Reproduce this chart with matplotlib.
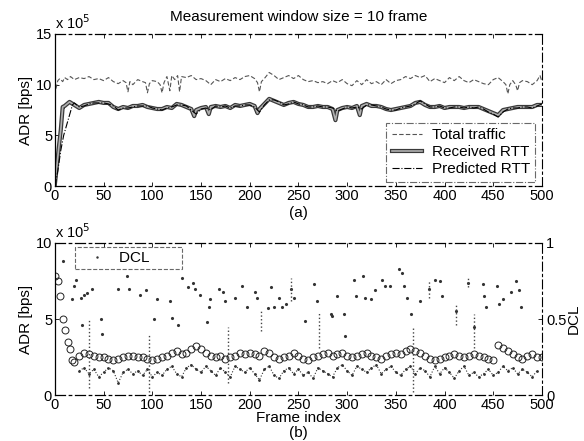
import matplotlib
matplotlib.use("Agg")
import matplotlib.pyplot as plt
import matplotlib.patheffects as pe
from matplotlib.lines import Line2D

plt.rcParams['font.family'] = ['Liberation Sans', 'DejaVu Sans']

# ---------------- data (x 1e5 bps) ----------------
total_frames = [1, 3, 5, 8, 10, 13, 16, 20, 25, 30, 35, 40, 45, 50, 55, 60, 65, 70, 73, 75, 77, 80, 85, 90, 93, 95, 97,
                100, 105, 108, 110, 112, 115, 118, 120, 123, 126, 128, 130, 135, 140, 145, 150, 155, 160, 165, 170,
                175, 180, 185, 190, 195, 200, 205, 208, 210, 212, 215, 220, 225, 230, 235, 240, 245, 250, 255, 260,
                265, 270, 275, 280, 285, 290, 295, 300, 305, 310, 315, 320, 325, 330, 335, 340, 345, 350, 355, 360,
                365, 370, 375, 380, 385, 390, 395, 400, 405, 410, 415, 420, 425, 430, 435, 440, 445, 450, 455, 460,
                463, 465, 467, 470, 473, 475, 477, 480, 485, 490, 495, 498, 500]
total_traffic = [9.6, 10.4, 10.6, 10.3, 10.7, 10.5, 10.8, 10.5, 10.7, 10.6, 10.8, 10.5, 10.6, 10.4, 10.7, 10.3, 10.1,
                 10.4, 10.2, 9.3, 10.3, 10.0, 10.5, 10.3, 10.2, 9.2, 10.1, 10.4, 10.3, 10.0, 9.2, 10.2, 10.8, 9.4,
                 10.9, 10.5, 10.9, 9.3, 10.8, 10.7, 10.9, 10.5, 10.6, 10.4, 10.0, 10.5, 10.3, 10.6, 10.4, 10.7,
                 10.5, 10.8, 10.9, 10.6, 10.2, 9.3, 10.3, 10.6, 11.2, 10.9, 10.5, 10.7, 10.9, 10.6, 10.9, 10.5,
                 10.3, 10.4, 10.2, 10.3, 10.1, 10.4, 10.2, 10.5, 10.1, 9.9, 10.4, 10.0, 10.5, 10.1, 10.3, 10.0,
                 10.5, 10.1, 10.4, 10.5, 10.8, 10.6, 10.9, 10.7, 10.9, 10.3, 10.6, 10.4, 10.2, 10.7, 10.4, 10.8,
                 10.4, 10.2, 10.5, 10.3, 10.1, 10.0, 10.5, 10.7, 10.3, 10.0, 9.1, 10.0, 10.4, 10.0, 9.4, 10.2,
                 10.4, 10.3, 10.0, 10.4, 10.9, 10.3]

recv_frames = [0, 2, 4, 6, 8, 10, 15, 20, 25, 30, 35, 40, 45, 50, 55, 60, 65, 70, 75, 80, 85, 90, 95, 100, 105, 110,
               115, 120, 125, 130, 135, 140, 143, 145, 150, 155, 158, 160, 165, 170, 175, 180, 185, 190, 195, 200,
               205, 208, 210, 215, 220, 225, 230, 235, 240, 245, 250, 255, 260, 265, 270, 275, 280, 285, 288, 290,
               295, 300, 305, 310, 313, 315, 320, 325, 330, 335, 340, 345, 350, 355, 360, 365, 370, 375, 380, 385,
               390, 395, 400, 405, 410, 415, 420, 425, 430, 435, 440, 445, 450, 455, 460, 465, 470, 475, 480, 485,
               490, 495, 500]
received_rtt = [0.2, 2.0, 3.8, 5.5, 7.8, 7.9, 8.3, 8.0, 7.7, 8.0, 8.1, 8.2, 8.3, 8.2, 8.2, 7.8, 7.6, 7.8, 7.7, 7.9,
                7.9, 8.0, 7.8, 7.7, 7.6, 7.6, 7.8, 7.7, 8.1, 8.0, 7.8, 7.6, 6.9, 7.5, 7.7, 7.8, 7.1, 7.8, 7.9, 7.8,
                7.9, 7.7, 8.0, 7.9, 8.0, 8.1, 7.9, 7.2, 7.6, 8.1, 8.6, 8.4, 8.2, 8.0, 8.2, 8.3, 8.1, 8.0, 7.8, 7.8,
                7.9, 7.8, 7.8, 7.6, 6.5, 7.5, 7.7, 7.8, 7.7, 7.9, 7.0, 7.9, 8.1, 7.9, 7.9, 7.8, 7.6, 7.5, 7.6, 7.7,
                7.8, 7.9, 8.2, 8.3, 8.0, 7.8, 7.8, 7.9, 7.7, 7.8, 7.8, 7.8, 7.7, 7.8, 7.8, 7.8, 7.6, 7.4, 7.2, 7.0,
                7.5, 7.6, 7.7, 7.8, 7.8, 7.8, 7.8, 8.0, 8.0]

pred_frames = [0, 3, 6, 9, 12, 15, 18, 20, 25, 30, 35, 40, 45, 50, 55, 60, 65, 70, 75, 80, 85, 90, 95, 100, 105,
               110, 115, 120, 125, 130, 135, 140, 145, 150, 155, 160, 165, 170, 175, 180, 185, 190, 195, 200, 205,
               210, 215, 220, 225, 230, 235, 240, 245, 250, 255, 260, 265, 270, 275, 280, 285, 290, 295, 300, 305,
               310, 315, 320, 325, 330, 335, 340, 345, 350, 355, 360, 365, 370, 375, 380, 385, 390, 395, 400, 405,
               410, 415, 420, 425, 430, 435, 440, 445, 450, 455, 460, 465, 470, 475, 480, 485, 490, 495, 500]
predicted_rtt = [0.0, 1.5, 3.5, 5.0, 6.0, 7.0, 8.0, 8.2, 7.8, 7.9, 8.1, 8.2, 8.2, 8.2, 8.1, 7.9, 7.5, 7.7, 7.7,
                 7.8, 7.9, 7.9, 7.9, 7.7, 7.6, 7.5, 7.7, 7.8, 8.0, 8.0, 7.9, 7.5, 7.1, 7.6, 7.7, 7.5, 7.9, 7.8,
                 7.9, 7.7, 7.9, 7.9, 8.0, 8.0, 7.8, 7.3, 8.0, 8.5, 8.5, 8.3, 8.0, 8.1, 8.3, 8.1, 8.0, 7.8, 7.8,
                 7.9, 7.8, 7.8, 7.7, 7.4, 7.6, 7.8, 7.7, 7.8, 7.6, 8.0, 8.0, 7.9, 7.8, 7.6, 7.5, 7.5, 7.7, 7.8,
                 7.9, 8.1, 8.4, 8.1, 7.8, 7.8, 7.9, 7.7, 7.7, 7.8, 7.8, 7.7, 7.8, 7.7, 7.8, 7.6, 7.3, 7.1, 6.8,
                 7.3, 7.6, 7.7, 7.7, 7.8, 7.8, 7.7, 7.9, 8.1]

# panel (b): ADR (x 1e5 bps)
adr_frames = [0, 3, 5, 8, 10, 13, 15, 18, 20, 25, 30, 35, 40, 45, 50, 55, 60, 65, 70, 75, 80, 85, 90, 95, 100,
              105, 110, 115, 120, 125, 130, 135, 140, 145, 150, 155, 160, 165, 170, 175, 180, 185, 190, 195, 200,
              205, 210, 215, 220, 225, 230, 235, 240, 245, 250, 255, 260, 265, 270, 275, 280, 285, 290, 295, 300,
              305, 310, 315, 320, 325, 330, 335, 340, 345, 350, 355, 360, 365, 370, 375, 380, 385, 390, 395, 400,
              405, 410, 415, 420, 425, 430, 435, 440, 445, 450, 455, 460, 465, 470, 475, 480, 485, 490, 495, 500]
adr_values = [7.8, 7.5, 6.5, 5.0, 4.3, 3.5, 3.0, 2.3, 2.2, 2.6, 2.8, 2.7, 2.6, 2.5, 2.5, 2.4, 2.3, 2.4, 2.5, 2.6,
              2.6, 2.5, 2.5, 2.4, 2.3, 2.4, 2.5, 2.6, 2.8, 2.9, 2.7, 2.8, 3.0, 3.2, 3.0, 2.8, 2.6, 2.5, 2.6, 2.4,
              2.5, 2.6, 2.8, 2.7, 2.8, 2.7, 2.6, 2.9, 2.8, 2.5, 2.4, 2.5, 2.6, 2.8, 2.6, 2.4, 2.3, 2.5, 2.6, 2.7,
              2.8, 2.6, 2.7, 2.8, 2.6, 2.5, 2.6, 2.7, 2.8, 2.6, 2.5, 2.4, 2.6, 2.7, 2.8, 2.7, 2.9, 3.0, 2.9, 2.8,
              2.6, 2.4, 2.3, 2.4, 2.5, 2.6, 2.7, 2.6, 2.5, 2.6, 2.7, 2.6, 2.5, 2.4, 2.3, 3.3, 3.1, 2.9, 2.7, 2.5,
              2.4, 2.6, 2.7, 2.5, 2.5]

# panel (b): DCL scattered values (0..1)
dcl_frames = [8, 18, 20, 22, 27, 28, 30, 33, 38, 47, 48, 65, 74, 76, 87, 94, 102, 105, 118, 120, 126, 130, 137, 142,
              144, 149, 156, 158, 159, 168, 173, 175, 185, 192, 197, 205, 207, 219, 222, 225, 230, 233, 237, 242,
              245, 257, 266, 269, 283, 284, 290, 297, 298, 307, 309, 316, 318, 325, 329, 336, 339, 344, 353, 356,
              358, 361, 366, 375, 384, 390, 395, 397, 412, 424, 430, 439, 441, 443, 454, 456, 460, 468, 473, 476,
              478]
dcl_values = [0.88, 0.63, 0.72, 0.76, 0.64, 0.46, 0.66, 0.67, 0.70, 0.50, 0.40, 0.70, 0.78, 0.70, 0.66, 0.69, 0.50,
              0.63, 0.62, 0.51, 0.46, 0.77, 0.71, 0.74, 0.70, 0.66, 0.48, 0.58, 0.63, 0.70, 0.68, 0.62, 0.64, 0.72,
              0.58, 0.68, 0.64, 0.57, 0.71, 0.58, 0.64, 0.58, 0.60, 0.70, 0.64, 0.49, 0.73, 0.62, 0.53, 0.52, 0.65,
              0.53, 0.39, 0.76, 0.65, 0.78, 0.64, 0.63, 0.69, 0.76, 0.72, 0.72, 0.83, 0.80, 0.72, 0.64, 0.53, 0.62,
              0.70, 0.76, 0.75, 0.65, 0.55, 0.74, 0.45, 0.73, 0.65, 0.58, 0.72, 0.60, 0.63, 0.68, 0.75, 0.69, 0.58]

low_frames = [25, 30, 35, 40, 45, 50, 55, 60, 65, 70, 75, 80, 85, 90, 95, 100, 105, 110, 115, 120, 125, 130, 135,
              140, 145, 150, 155, 160, 165, 170, 175, 180, 185, 190, 195, 200, 205, 210, 215, 220, 225, 230, 235,
              240, 245, 250, 255, 260, 265, 270, 275, 280, 285, 290, 295, 300, 305, 310, 315, 320, 325, 330, 335,
              340, 345, 350, 355, 360, 365, 370, 375, 380, 385, 390, 395, 400, 405, 410, 415, 420, 425, 430, 435,
              440, 445, 450, 455, 460, 465, 470, 475, 480, 485, 490, 495]
low_values = [0.16, 0.18, 0.14, 0.17, 0.12, 0.15, 0.18, 0.16, 0.08, 0.15, 0.17, 0.14, 0.16, 0.13, 0.17, 0.12, 0.15,
              0.13, 0.17, 0.19, 0.14, 0.12, 0.18, 0.20, 0.17, 0.15, 0.19, 0.16, 0.13, 0.18, 0.15, 0.12, 0.19, 0.17,
              0.15, 0.18, 0.14, 0.10, 0.17, 0.19, 0.13, 0.11, 0.16, 0.18, 0.14, 0.17, 0.13, 0.15, 0.11, 0.18,
              0.16, 0.14, 0.12, 0.18, 0.20, 0.16, 0.13, 0.19, 0.17, 0.15, 0.18, 0.20, 0.14, 0.17, 0.19, 0.15,
              0.13, 0.17, 0.19, 0.14, 0.18, 0.16, 0.12, 0.19, 0.14, 0.18, 0.15, 0.11, 0.16, 0.19, 0.13, 0.15,
              0.12, 0.14, 0.17, 0.13, 0.15, 0.19, 0.16, 0.18, 0.14, 0.17, 0.15, 0.12, 0.16]

vline_frames = [35, 97, 178, 212, 242, 271, 368, 384, 412, 424, 430]
vline_low = [0.05, 0.02, 0.08, 0.42, 0.62, 0.31, 0.02, 0.64, 0.46, 0.71, 0.31]
vline_high = [0.50, 0.40, 0.45, 0.56, 0.77, 0.54, 0.44, 0.76, 0.60, 0.78, 0.53]

xticks = [0, 50, 100, 150, 200, 250, 300, 350, 400, 450, 500]

# ---------------- figure ----------------
fig = plt.figure(figsize=(5.84, 4.41), dpi=100)
fs = 11
tfs = 10.5


def style_axes(ax):
    ax.tick_params(direction='in', length=3, labelsize=tfs, top=True, width=0.6, pad=2)
    for s in ['top', 'bottom']:
        ax.spines[s].set_linestyle((0, (8, 3, 2, 3)))
        ax.spines[s].set_linewidth(0.9)
    ax.spines['left'].set_linewidth(0.9)
    ax.spines['right'].set_linestyle((0, (8, 3, 2, 3)))
    ax.spines['right'].set_linewidth(0.8)


recv_effects = [pe.Stroke(linewidth=3.0, foreground='#3a3a3a'), pe.Normal()]

# panel (a)
ax1 = fig.add_axes([0.094, 0.578, 0.834, 0.345])
ax1.plot(total_frames, total_traffic, color='#555555', lw=0.8, ls=(0, (4, 2)))
ax1.plot(recv_frames, received_rtt, color='#b0b0b0', lw=1.2, path_effects=recv_effects)
ax1.plot(pred_frames, predicted_rtt, color='black', lw=0.8, ls='-.')
ax1.set_xlim(0, 500)
ax1.set_ylim(0, 15)
ax1.set_xticks(xticks)
ax1.set_yticks([0, 5, 10, 15])
ax1.set_ylabel('ADR [bps]', fontsize=fs, labelpad=2)
ax1.set_title('Measurement window size = 10 frame', fontsize=fs, pad=9)
ax1.text(0.0, 1.01, r'x 10$^5$', transform=ax1.transAxes, fontsize=tfs, ha='left', va='bottom')
ax1.text(0.5, -0.18, '(a)', transform=ax1.transAxes, fontsize=fs, ha='center', va='center')
style_axes(ax1)
handles = [Line2D([], [], color='#555555', lw=0.8, ls=(0, (4, 2))),
           Line2D([], [], color='#b0b0b0', lw=1.2, path_effects=recv_effects),
           Line2D([], [], color='black', lw=0.8, ls='-.')]
leg = ax1.legend(handles, ['Total traffic', 'Received RTT', 'Predicted RTT'], loc='lower right',
                 bbox_to_anchor=(0.986, 0.03), borderaxespad=0.0,
                 fontsize=fs, frameon=True, fancybox=False, borderpad=0.35, labelspacing=0.2,
                 handlelength=2.0, handletextpad=0.6)
leg.get_frame().set_edgecolor('#444444')
leg.get_frame().set_linestyle('-.')
leg.get_frame().set_linewidth(0.8)

# panel (b)
ax2 = fig.add_axes([0.094, 0.104, 0.834, 0.345])
ax2.plot(adr_frames, adr_values, ls='none', marker='o', ms=5, mfc='none', mec='#222222', mew=0.7)
ax2.set_xlim(0, 500)
ax2.set_ylim(0, 10)
ax2.set_xticks(xticks)
ax2.set_yticks([0, 5, 10])
ax2.set_ylabel('ADR [bps]', fontsize=fs, labelpad=2)
ax2.set_xlabel('Frame index', fontsize=fs, labelpad=-1)
ax2.text(0.0, 1.01, r'x 10$^5$', transform=ax2.transAxes, fontsize=tfs, ha='left', va='bottom')
ax2.text(0.5, -0.25, '(b)', transform=ax2.transAxes, fontsize=fs, ha='center', va='center')
style_axes(ax2)

ax3 = ax2.twinx()
ax3.set_ylim(0, 1)
ax3.set_xlim(0, 500)
ax3.plot(dcl_frames, dcl_values, ls='none', marker='.', ms=2.5, color='#333333')
ax3.plot(low_frames, low_values, ls=':', lw=0.8, marker='.', ms=2, color='#333333')
ax3.vlines(vline_frames, vline_low, vline_high, colors='#444444', linestyles=':', lw=1.0)
ax3.set_yticks([0, 0.5, 1])
ax3.set_yticklabels(['0', '0.5', '1'])
ax3.tick_params(direction='in', length=3, labelsize=tfs, width=0.6, pad=3)
ax3.set_ylabel('DCL', fontsize=fs, labelpad=0)
for s in ax3.spines.values():
    s.set_visible(False)
leg2 = ax3.legend([Line2D([], [], ls='none', marker='.', ms=1.5, color='#333333')], ['DCL       '],
                  loc='upper left', bbox_to_anchor=(0.042, 0.973), borderaxespad=0.0, fontsize=fs,
                  frameon=True, fancybox=False, borderpad=0.25, handlelength=2.3, handletextpad=0.3)
leg2.get_frame().set_edgecolor('#444444')
leg2.get_frame().set_linestyle('--')
leg2.get_frame().set_linewidth(0.8)

fig.savefig('out.png', dpi=100)
